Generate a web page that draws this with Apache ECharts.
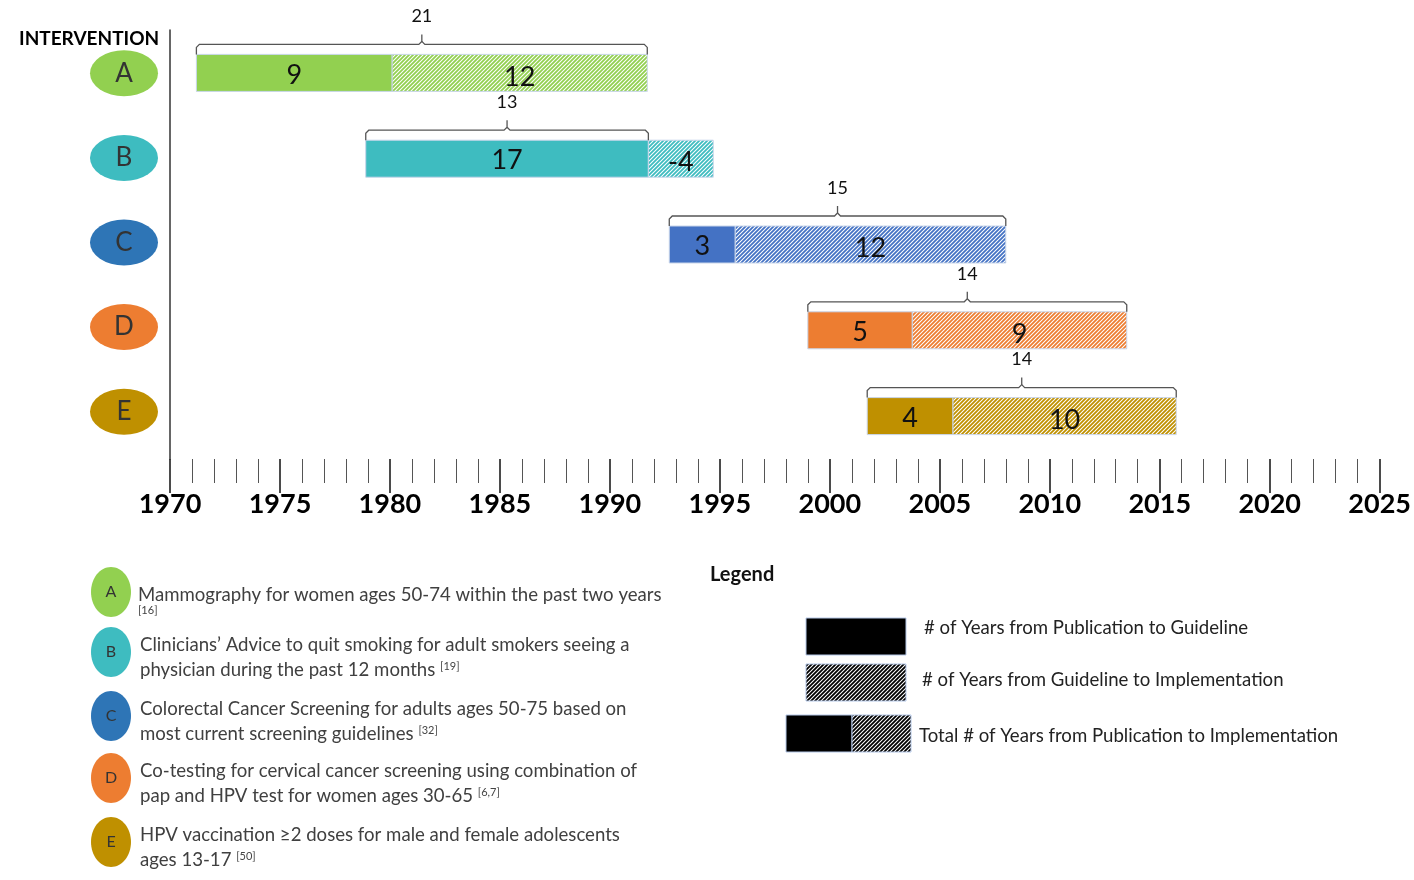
<!DOCTYPE html>
<html>
<head>
<meta charset="utf-8">
<script src="https://cdn.jsdelivr.net/npm/echarts@6/dist/echarts.min.js"></script>
<style>
  html, body { margin: 0; padding: 0; background: #fff; }
  #chart { width: 1414px; height: 880px; }
</style>
</head>
<body>
<div id="chart"></div>
<script>
// interventions (rows) and their timelines
const rows = ['A', 'B', 'C', 'D', 'E'];
const pubYear = [1971.2, 1978.9, 1992.7, 1999.0, 2001.7];
const guideYear = [1980.1, 1991.75, 1995.7, 2003.75, 2005.6];
const implYear = [1991.7, 1994.7, 2008.0, 2013.5, 2015.75];

// numbers printed on the bars
const pubToGuide = [9, 17, 3, 5, 4];
const guideToImpl = [12, -4, 12, 9, 10];
const totalYears = [21, 13, 15, 14, 14];

const barColors = ['#92d050', '#3ebcc0', '#4472c4', '#ed7d31', '#bf9000'];
const dotColors = ['#92d050', '#3ebcc0', '#2e75b6', '#ed7d31', '#bf9000'];

// description list under the chart
const descLine1 = [
    'Mammography for women ages 50-74 within the past two years',
    'Clinicians\u2019 Advice to quit smoking for adult smokers seeing a',
    'Colorectal Cancer Screening for adults ages 50-75 based on',
    'Co-testing for cervical cancer screening using combination of',
    'HPV vaccination \u22652 doses for male and female adolescents'
];
const descLine2 = ['', 'physician during the past 12 months', 'most current screening guidelines',
    'pap and HPV test for women ages 30-65', 'ages 13-17'];
const descRefs = ['[16]', '[19]', '[32]', '[6,7]', '[50]'];

const legendTexts = [
    '# of Years from Publication to Guideline',
    '# of Years from Guideline to Implementation',
    'Total # of Years from Publication to Implementation'
];

const FONT = 'Lato, "Open Sans", sans-serif';

// diagonal hatch fill
function hatch(color) {
    const c = document.createElement('canvas');
    c.width = 4;
    c.height = 4;
    const ctx = c.getContext('2d');
    ctx.strokeStyle = color;
    ctx.lineWidth = 1.8;
    ctx.beginPath();
    ctx.moveTo(0, 4); ctx.lineTo(4, 0);
    ctx.moveTo(-1, 1); ctx.lineTo(1, -1);
    ctx.moveTo(3, 5); ctx.lineTo(5, 3);
    ctx.stroke();
    return { type: 'pattern', image: c, repeat: 'repeat' };
}

const barData = rows.map((r, i) => [pubYear[i], i, guideYear[i], implYear[i]]);

function renderBar(params, api) {
    const i = params.dataIndex;
    const p0 = api.coord([api.value(0), i]);
    const x0 = p0[0];
    const yc = p0[1];
    const x1 = api.coord([api.value(2), i])[0];
    const x2 = api.coord([api.value(3), i])[0];
    const h = 37;
    const top = yc - h / 2;
    const xb = guideToImpl[i] < 0 ? x1 : x2;
    const xm = (x0 + xb) / 2;
    const yb = top - 10;
    const br = { stroke: '#555', lineWidth: 1.3, fill: null };
    return {
        type: 'group',
        children: [
            { type: 'rect', shape: { x: x0, y: top, width: x1 - x0, height: h },
              style: { fill: barColors[i], stroke: '#c9d6ea', lineWidth: 1 } },
            { type: 'rect', shape: { x: x1, y: top, width: x2 - x1, height: h },
              style: { fill: hatch(barColors[i]), stroke: '#c9d6ea', lineWidth: 1 } },
            { type: 'text', x: (x0 + x1) / 2, y: yc + 2,
              style: { text: String(pubToGuide[i]), align: 'center', verticalAlign: 'middle',
                       font: '27px ' + FONT, fill: '#111' } },
            { type: 'text', x: (x1 + x2) / 2, y: yc + 4,
              style: { text: String(guideToImpl[i]), align: 'center', verticalAlign: 'middle',
                       font: '27px ' + FONT, fill: '#111' } },
            { type: 'polyline', shape: { points: [[x0, top], [x0, yb + 3], [x0 + 3, yb], [xm - 3, yb], [xm, yb - 3], [xm, yb - 10]] },
              style: br },
            { type: 'polyline', shape: { points: [[xm, yb - 3], [xm + 3, yb], [xb - 3, yb], [xb, yb + 3], [xb, top]] },
              style: br },
            { type: 'text', x: xm, y: yb - 28,
              style: { text: String(totalYears[i]), align: 'center', verticalAlign: 'middle',
                       font: '18px ' + FONT, fill: '#111' } }
        ]
    };
}

// bottom description list + legend, drawn as graphics
const graphics = [];
const listY = [592, 652, 716, 778, 842];
const TXT = '18.6px ' + FONT;
rows.forEach((r, i) => {
    graphics.push({ type: 'ellipse', shape: { cx: 111, cy: listY[i], rx: 20, ry: 25 },
        style: { fill: dotColors[i] } });
    graphics.push({ type: 'text', x: 111, y: listY[i],
        style: { text: r, align: 'center', verticalAlign: 'middle', font: '16px ' + FONT, fill: '#333' } });
    const rich = { s: { fontSize: 11, fontFamily: FONT, fill: '#444', verticalAlign: 'top', padding: [0, 0, 8, 0] } };
    if (i === 0) {
        graphics.push({ type: 'text', x: 138, y: 595,
            style: { text: descLine1[i], verticalAlign: 'middle', font: TXT, fill: '#404040' } });
        graphics.push({ type: 'text', x: 138, y: 610,
            style: { text: descRefs[i], verticalAlign: 'middle', font: '11px ' + FONT, fill: '#404040' } });
    } else {
        graphics.push({ type: 'text', x: 140, y: listY[i] - 7,
            style: { text: descLine1[i], verticalAlign: 'middle', font: TXT, fill: '#404040' } });
        graphics.push({ type: 'text', x: 140, y: listY[i] + 18,
            style: { text: descLine2[i] + ' {s|' + descRefs[i] + '}', verticalAlign: 'middle',
                     font: TXT, fill: '#404040', rich: rich } });
    }
});

graphics.push({ type: 'text', x: 710, y: 575,
    style: { text: 'Legend', verticalAlign: 'middle', font: 'bold 20px ' + FONT, fill: '#111' } });
const legStroke = { stroke: '#b4c7e7', lineWidth: 1 };
graphics.push({ type: 'rect', shape: { x: 806, y: 618, width: 100, height: 37 },
    style: Object.assign({ fill: '#000' }, legStroke) });
graphics.push({ type: 'rect', shape: { x: 806, y: 664, width: 100, height: 37 },
    style: Object.assign({ fill: hatch('#000') }, legStroke) });
graphics.push({ type: 'rect', shape: { x: 786, y: 715, width: 66, height: 37 },
    style: Object.assign({ fill: '#000' }, legStroke) });
graphics.push({ type: 'rect', shape: { x: 852, y: 715, width: 59, height: 37 },
    style: Object.assign({ fill: hatch('#000') }, legStroke) });
[[924, 628], [922, 680], [919, 736]].forEach((p, k) => {
    graphics.push({ type: 'text', x: p[0], y: p[1],
        style: { text: legendTexts[k], verticalAlign: 'middle', font: TXT, fill: '#222' } });
});

const chart = echarts.init(document.getElementById('chart'));

chart.setOption({
    backgroundColor: '#fff',
    animation: false,
    title: {
        text: 'INTERVENTION',
        left: 14,
        top: 24,
        textStyle: { fontFamily: FONT, fontSize: 19, fontWeight: 'bold', color: '#000' }
    },
    grid: [
        { left: 170, right: 25, top: 30, bottom: 421 },
        { left: 90, width: 68, top: 31, height: 423 }
    ],
    xAxis: [
        {
            type: 'value',
            min: 1970,
            max: 2025,
            interval: 5,
            axisLine: { lineStyle: { color: '#333', width: 1.5 } },
            axisTick: { show: true, length: 34, lineStyle: { color: '#111', width: 1.5 } },
            minorTick: { show: true, splitNumber: 5, length: 24, lineStyle: { color: '#555', width: 1 } },
            splitLine: { show: false },
            axisLabel: {
                formatter: (v) => String(v),
                fontFamily: FONT, fontSize: 27, fontWeight: 'bold', color: '#000', margin: 32
            }
        },
        { type: 'value', gridIndex: 1, min: 0, max: 1, show: false }
    ],
    yAxis: [
        {
            type: 'category',
            data: rows,
            inverse: true,
            axisLine: { show: true, lineStyle: { color: '#333', width: 1.5 } },
            axisTick: { show: false },
            axisLabel: { show: false }
        },
        { type: 'category', gridIndex: 1, data: rows, inverse: true, show: false }
    ],
    series: [
        {
            type: 'custom',
            renderItem: renderBar,
            encode: { x: [0, 2, 3], y: 1 },
            data: barData
        },
        {
            type: 'scatter',
            xAxisIndex: 1,
            yAxisIndex: 1,
            symbol: 'circle',
            symbolSize: [68, 46],
            data: rows.map((r, i) => ({ value: [0.5, r], itemStyle: { color: dotColors[i], opacity: 1 } })),
            label: {
                show: true,
                position: 'inside',
                formatter: (p) => p.value[1],
                fontFamily: FONT,
                fontSize: 26,
                color: '#333'
            }
        }
    ],
    graphic: graphics
});
</script>
</body>
</html>
